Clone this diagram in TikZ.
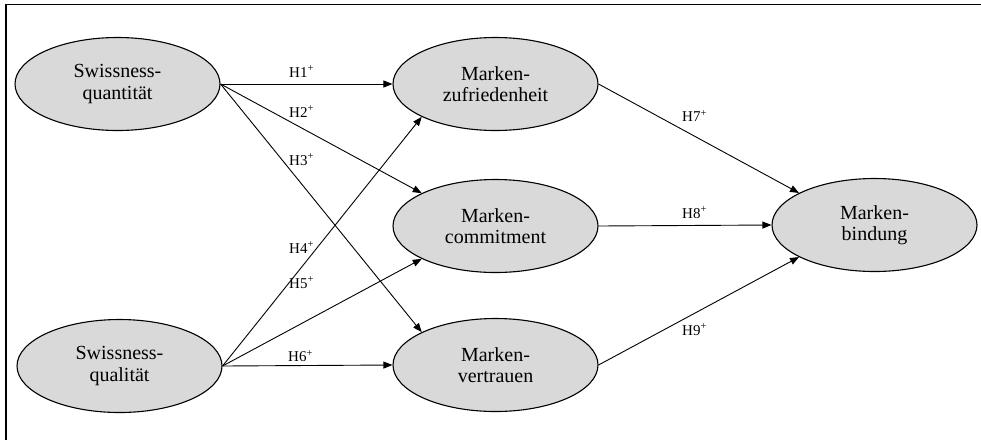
\documentclass[tikz,border=0pt]{standalone}
\usepackage{fontspec}
\setmainfont{Liberation Serif}
\usetikzlibrary{shapes.geometric,arrows.meta}
\definecolor{ellfill}{HTML}{D9D9D9}
\tikzset{
  construct/.style={ellipse, draw=black, line width=1.1pt, fill=ellfill,
    minimum width=205pt, minimum height=93pt, inner sep=0pt, align=center,
    font=\fontsize{20}{21.5}\selectfont},
  path arrow/.style={draw=black, line width=0.9pt, -{Triangle[length=9pt,width=7pt]}},
  hyp/.style={anchor=base west, inner sep=0pt, font=\fontsize{15}{16}\selectfont},
  frameline/.style={draw=black, line width=1.2pt}
}
\newcommand{\hyplabel}[1]{H#1\raisebox{5.5pt}{\fontsize{10.5}{11}\selectfont +}}
\begin{document}
\begin{tikzpicture}[x=1pt,y=-1pt]
\useasboundingbox (0,0) rectangle (981,440);
% frame (only top and left edges are visible)
\coordinate (fTL) at (6,4.5);
\coordinate (fTR) at (981,4.5);
\coordinate (fBL) at (6,440);
\draw[frameline] (fTR) -- (fTL) -- (fBL);

% constructs
\node[construct] (q1) at (117.5,84) {Swissness-\\quantität};
\node[construct] (q2) at (119.5,366) {Swissness-\\qualität};
\node[construct] (zuf) at (495.5,84) {Marken-\\zufriedenheit};
\node[construct] (com) at (495.5,226) {Marken-\\commitment};
\node[construct] (ver) at (495.5,365) {Marken-\\vertrauen};
\node[construct] (bin) at (874.5,225) {Marken-\\bindung};

% paths
\draw[path arrow] (q1.east) -- (zuf.west);
\draw[path arrow] (q1.east) -- (com.156);
\draw[path arrow] (q1.east) -- (ver.156);
\draw[path arrow] (q2.east) -- (zuf.204);
\draw[path arrow] (q2.east) -- (com.204);
\draw[path arrow] (q2.east) -- (ver.west);
\draw[path arrow] (zuf.east) -- (bin.157);
\draw[path arrow] (com.east) -- (bin.west);
\draw[path arrow] (ver.east) -- (bin.203);

% hypothesis labels
\node[hyp] (h1) at (289,77) {\hyplabel{1}};
\node[hyp] (h2) at (289,117) {\hyplabel{2}};
\node[hyp] (h3) at (289,165) {\hyplabel{3}};
\node[hyp] (h4) at (289,253) {\hyplabel{4}};
\node[hyp] (h5) at (289,288) {\hyplabel{5}};
\node[hyp] (h6) at (288,361.5) {\hyplabel{6}};
\node[hyp] (h7) at (682,121.5) {\hyplabel{7}};
\node[hyp] (h8) at (682,218) {\hyplabel{8}};
\node[hyp] (h9) at (682,335) {\hyplabel{9}};
\end{tikzpicture}
\end{document}
